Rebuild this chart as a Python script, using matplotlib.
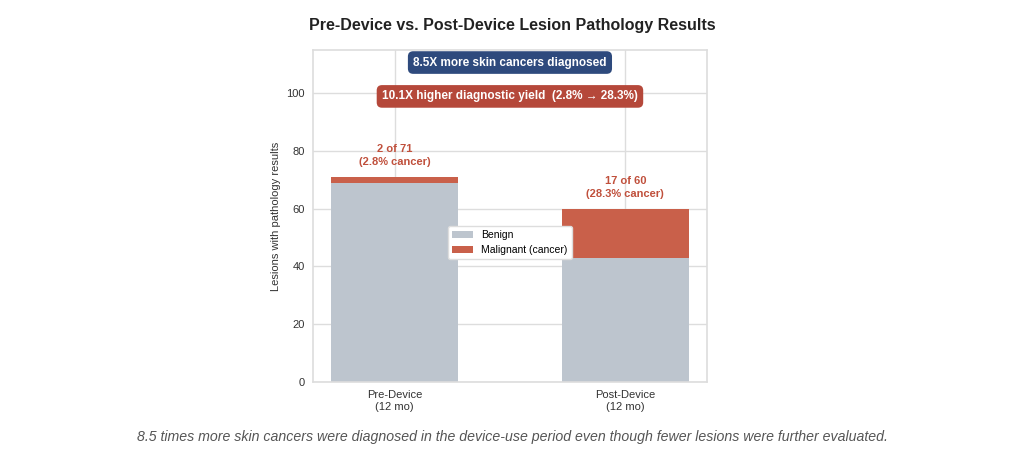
import numpy as np
import matplotlib
matplotlib.use('Agg')
import matplotlib.pyplot as plt

plt.rcParams['font.family'] = ['Liberation Sans', 'DejaVu Sans']

periods = ['Pre-Device\n(12 mo)', 'Post-Device\n(12 mo)']
benign = [69, 43]
malignant = [2, 17]
totals = [71, 60]
pct = [2.8, 28.3]

benign_col = '#BDC5CE'
malig_col = '#C9604A'

fig = plt.figure(figsize=(10.24, 4.58), dpi=100)
ax = fig.add_axes([0.306, 0.166, 0.384, 0.725])

x = np.arange(len(periods))
ax.bar(x, benign, width=0.55, color=benign_col, label='Benign', zorder=2)
ax.bar(x, malignant, width=0.55, bottom=benign, color=malig_col, label='Malignant (cancer)', zorder=2)

for i in range(len(x)):
    ax.text(x[i], totals[i] + 3.5, '%d of %d\n(%.1f%% cancer)' % (malignant[i], totals[i], pct[i]),
            ha='center', va='bottom', color='#C0503C', fontsize=8, fontweight='bold', linespacing=1.35)

ax.set_ylim(0, 115)
ax.set_yticks([0, 20, 40, 60, 80, 100])
ax.set_xticks(x)
ax.set_xticklabels(periods, fontsize=8, color='#333333', linespacing=1.2)
ax.tick_params(axis='y', labelsize=8, colors='#333333', length=0, pad=6)
ax.tick_params(axis='x', length=0, pad=6)
ax.set_ylabel('Lesions with pathology results', fontsize=8, color='#333333')
ax.grid(True, color='#DDDDDD', linewidth=1, zorder=0)
ax.set_axisbelow(True)
for s in ax.spines.values():
    s.set_color('#DDDDDD')
    s.set_linewidth(1.2)

ax.text(0.5, 0.962, '8.5X more skin cancers diagnosed', transform=ax.transAxes,
        ha='center', va='center', color='white', fontsize=8.5, fontweight='bold',
        bbox=dict(boxstyle='round,pad=0.45', fc='#2E4A7D', ec='none'))
ax.text(0.5, 0.86, '10.1X higher diagnostic yield  (2.8% \u2192 28.3%)', transform=ax.transAxes,
        ha='center', va='center', color='white', fontsize=8.5, fontweight='bold',
        bbox=dict(boxstyle='round,pad=0.45', fc='#B5483A', ec='none'))

ax.legend(loc='center', bbox_to_anchor=(0.5, 0.42), fontsize=7.5, frameon=True,
          facecolor='white', edgecolor='#DDDDDD', framealpha=1)

fig.suptitle('Pre-Device vs. Post-Device Lesion Pathology Results', x=0.5, y=0.96,
             fontsize=11.5, fontweight='bold', color='#222222')
fig.text(0.5, 0.045, '8.5 times more skin cancers were diagnosed in the device-use period even though fewer lesions were further evaluated.',
         ha='center', va='center', fontsize=10.2, style='italic', color='#555555')

fig.savefig('out.png', dpi=100)
